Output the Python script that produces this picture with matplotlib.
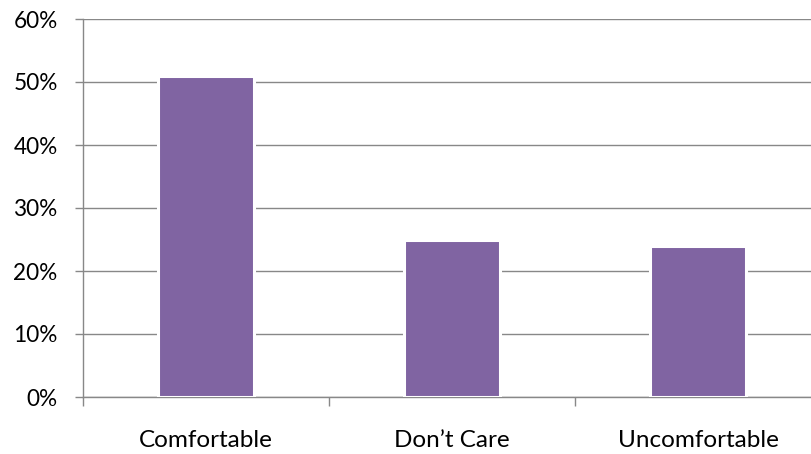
import matplotlib

matplotlib.use("Agg")
import matplotlib.pyplot as plt
from matplotlib.ticker import FuncFormatter, FixedLocator, NullFormatter
from matplotlib import patheffects

CATEGORIES = ["Comfortable", "Don\u2019t Care", "Uncomfortable"]
SHARES = [0.51, 0.25, 0.24]
Y_TICKS = [0.0, 0.1, 0.2, 0.3, 0.4, 0.5, 0.6]

BAR_COLOR = "#8064A2"
GRID_COLOR = "#888888"

plt.rcParams.update({
    "font.family": ["Lato", "DejaVu Sans"],
    "font.size": 17,
})

fig = plt.figure(figsize=(8.11, 4.54), dpi=100)
# axes run past the right edge of the image, as in the original
ax = fig.add_axes([83 / 811, 1 - 397 / 454, 738 / 811, 378 / 454])

x = list(range(len(CATEGORIES)))
bars = ax.bar(x, SHARES, width=0.39, color=BAR_COLOR, edgecolor="white",
              linewidth=2.2, zorder=3)
for b in bars:
    b.set_path_effects([patheffects.SimplePatchShadow(offset=(0.8, -0.8), alpha=0.15),
                        patheffects.Normal()])

ax.set_xlim(-0.5, len(CATEGORIES) - 0.5)
ax.set_ylim(0, 0.6)
ax.set_yticks(Y_TICKS)
ax.yaxis.set_major_formatter(FuncFormatter(lambda v, _: f"{v * 100:.0f}%"))
ax.yaxis.grid(True, color=GRID_COLOR, linewidth=1.0, zorder=0)
ax.set_axisbelow(True)

# category labels centred, tick marks on the category boundaries
ax.set_xticks(x)
ax.set_xticklabels(CATEGORIES)
ax.tick_params(axis="x", which="major", length=0, pad=24, labelsize=17.5)
ax.xaxis.set_minor_locator(FixedLocator([i + 0.5 for i in range(-1, len(CATEGORIES))]))
ax.xaxis.set_minor_formatter(NullFormatter())
ax.tick_params(axis="x", which="minor", length=6.5, width=1.0, color=GRID_COLOR)
ax.tick_params(axis="y", length=5.8, width=1.0, color=GRID_COLOR, pad=12.5, labelsize=16.3)

for side in ("top", "right"):
    ax.spines[side].set_visible(False)
for side in ("left", "bottom"):
    ax.spines[side].set_color(GRID_COLOR)
    ax.spines[side].set_linewidth(1.0)

fig.savefig("out.png", dpi=100)
